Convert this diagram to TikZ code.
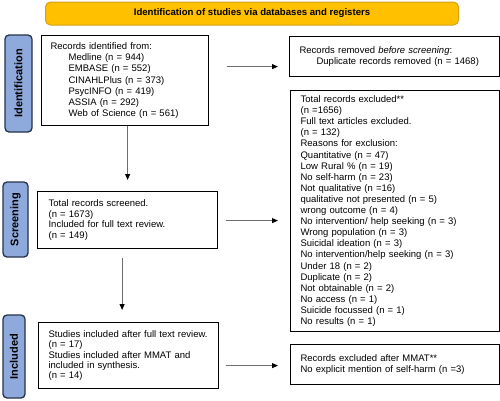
\documentclass[tikz,border=0pt]{standalone}
\usepackage{fontspec}
\setmainfont{Liberation Sans}
\usetikzlibrary{arrows.meta,calc}
\definecolor{bannerfill}{HTML}{FFC000}
\definecolor{bannerline}{HTML}{D4A017}
\definecolor{labfill}{HTML}{8EA9DB}
\definecolor{labline}{HTML}{26324A}
\definecolor{arrline}{HTML}{6E6E6E}
\begin{document}
\begin{tikzpicture}[x=1pt,y=-1pt,
  box/.style={draw=black, line width=1.2pt, inner xsep=0pt, anchor=north west, align=left,
    font=\fontsize{9.5}{11.1}\selectfont},
  banner/.style={draw=bannerline, fill=bannerfill, line width=1pt, rounded corners=5pt,
    font=\fontsize{9.6}{11}\selectfont\bfseries},
  sidelab/.style={draw=labline, fill=labfill, line width=1.3pt, rounded corners=4pt,
    rotate=90, inner sep=0pt, font=\fontsize{11}{12}\selectfont\bfseries},
  arr/.style={draw=arrline, line width=0.9pt, -{Triangle[length=6pt,width=5pt,color=black]}}]
\useasboundingbox (0,0) rectangle (500,400);

\node[banner, minimum width=413, minimum height=23] (ban) at (252,13.5)
  {Identification of studies via databases and registers};

\node[sidelab, minimum width=97, minimum height=27] (lid) at (18.5,83.5) {Identification};
\node[sidelab, minimum width=75, minimum height=25] (lsc) at (15.5,219.5) {Screening};
\node[sidelab, minimum width=83, minimum height=22] (lin) at (14,356.5) {Included};

\node[box, text width=167, minimum height=90] (rec) at (41,35) {\leftskip=9pt
Records identified from:\\
\hspace*{18pt}Medline (n = 944)\\
\hspace*{18pt}EMBASE (n = 552)\\
\hspace*{18pt}CINAHLPlus (n = 373)\\
\hspace*{18pt}PsycINFO (n = 419)\\
\hspace*{18pt}ASSIA (n = 292)\\
\hspace*{18pt}Web of Science (n = 561)\par};

\node[box, text width=210, minimum height=40] (rem) at (289,36) {\leftskip=10pt
Records removed \textit{before screening}:\\
\hspace*{17pt}Duplicate records removed (n = 1468)\par};

\node[box, text width=209, minimum height=241] (exc) at (290,90) {\leftskip=10pt
Total records excluded**\\
(n =1656)\\
Full text articles excluded.\\
(n = 132)\\
Reasons for exclusion:\\
Quantitative (n = 47)\\
Low Rural \% (n = 19)\\
No self-harm (n = 23)\\
Not qualitative (n =16)\\
qualitative not presented (n = 5)\\
wrong outcome (n = 4)\\
No intervention/ help seeking (n = 3)\\
Wrong population (n = 3)\\
Suicidal ideation (n = 3)\\
No intervention/help seeking (n = 3)\\
Under 18 (n = 2)\\
Duplicate (n = 2)\\
Not obtainable (n = 2)\\
No access (n = 1)\\
Suicide focussed (n = 1)\\
No results (n = 1)\par};

\node[box, text width=180, minimum height=57, font=\fontsize{9.5}{10.7}\selectfont] (scr) at (37,191) {\leftskip=11pt
Total records screened.\\
(n = 1673)\\
Included for full text review.\\
(n = 149)\par};

\node[box, text width=180, minimum height=66, font=\fontsize{9.5}{10.4}\selectfont] (inc) at (38,322) {\leftskip=10pt
Studies included after full text review.\\
(n = 17)\\
Studies included after MMAT and\\
included in synthesis.\\
(n = 14)\par};

\node[box, text width=209, minimum height=40] (mmat) at (290,344) {\leftskip=10pt
Records excluded after MMAT**\\
No explicit mention of self-harm (n =3)\par};

\draw[arr] ($(rec.east)+(18,-14)$) -- ($(rec.east -| rem.west)+(-11,-14)$);
\draw[arr] (rec.south -| scr.north) -- ($(scr.north)+(0,-11)$);
\draw[arr] ($(scr.east)+(8,0.5)$) -- ($(scr.east -| exc.west)+(-12,0.5)$);
\draw[arr] ($(scr.south)+(-5.5,9)$) -- ($(inc.north)+(-6.5,-12)$);
\draw[arr] ($(inc.east)+(7,10)$) -- ($(inc.east -| mmat.west)+(-12,10)$);
\end{tikzpicture}
\end{document}
